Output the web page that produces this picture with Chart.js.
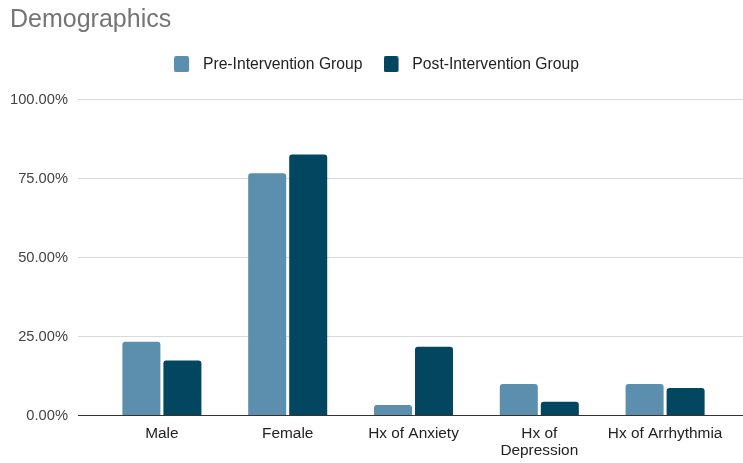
<!DOCTYPE html>
<html>
<head>
<meta charset="utf-8">
<title>Demographics</title>
<script src="https://cdn.jsdelivr.net/npm/chart.js@4/dist/chart.umd.min.js"></script>
<style>
  html, body { margin: 0; padding: 0; background: #ffffff; }
  #wrap { width: 743px; height: 463px; }
</style>
</head>
<body>
<div id="wrap"><canvas id="chart" width="743" height="463"></canvas></div>
<script>
// Demographic characteristics, share of each group (%)
const categories = ['Male', 'Female', 'Hx of Anxiety', ['Hx of', 'Depression'], 'Hx of Arrhythmia'];
const seriesNames = ['Pre-Intervention Group', 'Post-Intervention Group'];
const preValues = [23.33, 76.67, 3.33, 10.0, 10.0];
const postValues = [17.39, 82.61, 21.74, 4.35, 8.70];
const yTicks = [0, 25, 50, 75, 100];

const colors = ['#5b8fad', '#02465f'];

Chart.defaults.font.family = "'Liberation Sans', Arial, sans-serif";

// Legend swatch: square on the left, transparent space on the right
function swatch(color) {
  const c = document.createElement('canvas');
  c.width = 21; c.height = 16;
  const g = c.getContext('2d');
  g.fillStyle = color;
  g.beginPath();
  if (g.roundRect) { g.roundRect(0, 0, 15, 16, 2); } else { g.rect(0, 0, 15, 16); }
  g.fill();
  return c;
}
const swatches = colors.map(swatch);

const gridColor = (ctx) => (ctx.tick && ctx.tick.value === 0 ? '#333333' : '#d9d9d9');

new Chart(document.getElementById('chart'), {
  type: 'bar',
  data: {
    labels: categories,
    datasets: [
      { label: seriesNames[0], data: preValues, backgroundColor: colors[0] },
      { label: seriesNames[1], data: postValues, backgroundColor: colors[1] }
    ]
  },
  options: {
    responsive: false,
    animation: false,
    devicePixelRatio: 1,
    layout: { padding: { left: 10, right: 0, top: 0, bottom: 0 } },
    datasets: {
      bar: { categoryPercentage: 0.652, barPercentage: 0.927, borderRadius: 3 }
    },
    plugins: {
      tooltip: { enabled: false },
      title: {
        display: true,
        text: 'Demographics',
        align: 'start',
        color: '#757575',
        font: { size: 25, weight: 'normal' },
        padding: { top: 5.5, bottom: 0 }
      },
      legend: {
        display: true,
        position: 'top',
        labels: {
          color: '#222222',
          font: { size: 15.7 },
          padding: 21,
          usePointStyle: true,
          pointStyleWidth: 21,
          generateLabels: (chart) => {
            const items = Chart.defaults.plugins.legend.labels.generateLabels(chart);
            items.forEach((it, i) => { it.pointStyle = swatches[i]; });
            return items;
          }
        }
      },
      // empty spacer between legend and plot area
      subtitle: {
        display: true,
        text: '',
        weight: 500,
        font: { size: 10, lineHeight: 1 },
        padding: { top: 0, bottom: 7.35 }
      }
    },
    scales: {
      x: {
        grid: { display: false, drawTicks: false },
        border: { display: true, color: '#333333', width: 1 },
        ticks: {
          color: '#222222',
          font: { size: 15.4, lineHeight: 1.1 },
          padding: 10,
          autoSkip: false,
          maxRotation: 0
        },
        afterFit: (scale) => { scale.height = 47.5; }
      },
      y: {
        min: 0,
        max: 100,
        afterBuildTicks: (scale) => { scale.ticks = yTicks.map(v => ({ value: v })); },
        grid: { color: gridColor, tickColor: gridColor, tickLength: 21, lineWidth: 1 },
        border: { display: false },
        ticks: {
          color: '#444444',
          font: { size: 14.7 },
          padding: 10,
          callback: (v) => v.toFixed(2) + '%'
        },
        afterFit: (scale) => { scale.width = 89; }
      },
      y2: {
        type: 'linear',
        position: 'right',
        min: 0,
        max: 100,
        afterBuildTicks: (scale) => { scale.ticks = yTicks.map(v => ({ value: v })); },
        grid: { drawOnChartArea: false, color: gridColor, tickColor: gridColor, tickLength: 15 },
        border: { display: false },
        ticks: { display: false },
        afterFit: (scale) => { scale.width = 15; }
      }
    }
  }
});
</script>
</body>
</html>
